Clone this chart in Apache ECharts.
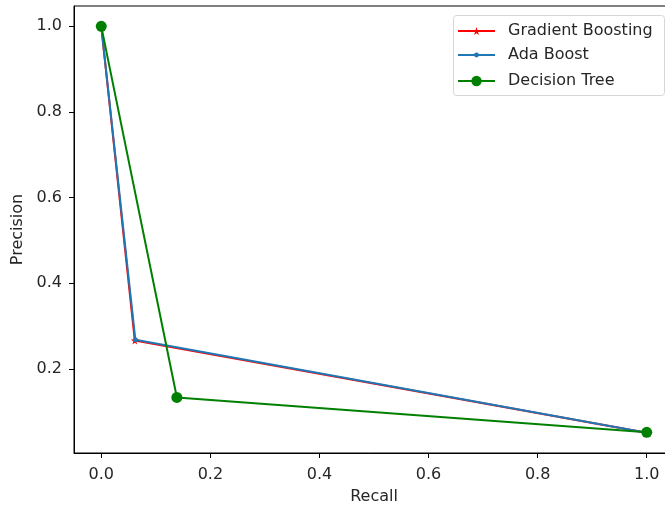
<!DOCTYPE html>
<html><head><meta charset="utf-8">
<script src="https://cdn.jsdelivr.net/npm/echarts@6/dist/echarts.min.js"></script>
<style>html,body{margin:0;padding:0;background:#fff}#c{width:665px;height:508px}</style>
</head><body><div id="c"></div>
<script>
const seriesNames = ['Gradient Boosting', 'Ada Boost', 'Decision Tree'];
const gbRecall = [0, 0.0615, 1.0];
const gbPrecision = [1.0, 0.266, 0.0508];
const adaRecall = [0, 0.0625, 1.0];
const adaPrecision = [1.0, 0.268, 0.0508];
const dtRecall = [0, 0.1386, 1.0];
const dtPrecision = [1.0, 0.133, 0.0515];
const xTicks = [0, 0.2, 0.4, 0.6, 0.8, 1.0];
const yTicks = [0.2, 0.4, 0.6, 0.8, 1.0];

const star = 'path://M50,0 L61,35 L98,35 L68,57 L79,91 L50,70 L21,91 L32,57 L2,35 L39,35 Z';
const font = 'DejaVu Sans';
const txt = '#262626';
function pairs(xs, ys){ return xs.map((x,i)=>[x, ys[i]]); }

const legendRowTops = [23, 47, 73];
const legendIconHeights = [10, 6, 13];
function legendFor(i){
  return {
    orient: 'vertical', left: 457, top: legendRowTops[i], z: 20,
    data: [seriesNames[i]],
    itemWidth: 37, itemHeight: legendIconHeights[i],
    padding: 0,
    textStyle: {fontFamily: font, fontSize: 16, color: txt, padding: [0, 0, 0, 8]}
  };
}

const chart = echarts.init(document.getElementById('c'));
chart.setOption({
  animation: false,
  textStyle: {fontFamily: font},
  grid: {left: 74, top: 6, width: 600, height: 447, show: true, borderColor: '#000', borderWidth: 1,
         containLabel: false, outerBoundsMode: 'none'},
  graphic: [{
    type: 'rect', left: 453, top: 15, z: 3,
    shape: {width: 211, height: 80, r: 3},
    style: {fill: '#fff', stroke: '#d6d6d6', lineWidth: 1}
  }],
  xAxis: {
    type: 'value', min: -0.05, max: 1.05,
    name: 'Recall', nameLocation: 'middle', nameGap: 36,
    nameTextStyle: {fontFamily: font, fontSize: 16, color: txt},
    splitLine: {show: false},
    axisLine: {show: true, onZero: false, lineStyle: {color: '#000', width: 1}},
    axisTick: {show: true, length: 5, customValues: xTicks, lineStyle: {color: '#000'}},
    axisLabel: {customValues: xTicks, fontFamily: font, fontSize: 16, color: txt, margin: 14,
      formatter: v => v.toFixed(1)}
  },
  yAxis: {
    type: 'value', min: 0.0033, max: 1.0475,
    name: 'Precision', nameLocation: 'middle', nameGap: 45, nameRotate: 90,
    nameTextStyle: {fontFamily: font, fontSize: 16, color: txt},
    splitLine: {show: false},
    axisLine: {show: true, onZero: false, lineStyle: {color: '#000', width: 1}},
    axisTick: {show: true, length: 5, customValues: yTicks, lineStyle: {color: '#000'}},
    axisLabel: {customValues: yTicks, fontFamily: font, fontSize: 16, color: txt, margin: 12,
      formatter: v => v.toFixed(1)}
  },
  legend: [legendFor(0), legendFor(1), legendFor(2)],
  series: [
    {name: seriesNames[0], type: 'line', data: pairs(gbRecall, gbPrecision),
     symbol: star, symbolSize: 8, color: '#ff0000',
     lineStyle: {width: 2, color: '#ff0000'}, itemStyle: {color: '#ff0000'}},
    {name: seriesNames[1], type: 'line', data: pairs(adaRecall, adaPrecision),
     symbol: 'circle', symbolSize: 5, color: '#1f77b4',
     lineStyle: {width: 2, color: '#1f77b4'}, itemStyle: {color: '#1f77b4'}},
    {name: seriesNames[2], type: 'line', data: pairs(dtRecall, dtPrecision),
     symbol: 'circle', symbolSize: 11, color: '#008000',
     lineStyle: {width: 2, color: '#008000'}, itemStyle: {color: '#008000'}}
  ]
});
</script></body></html>
